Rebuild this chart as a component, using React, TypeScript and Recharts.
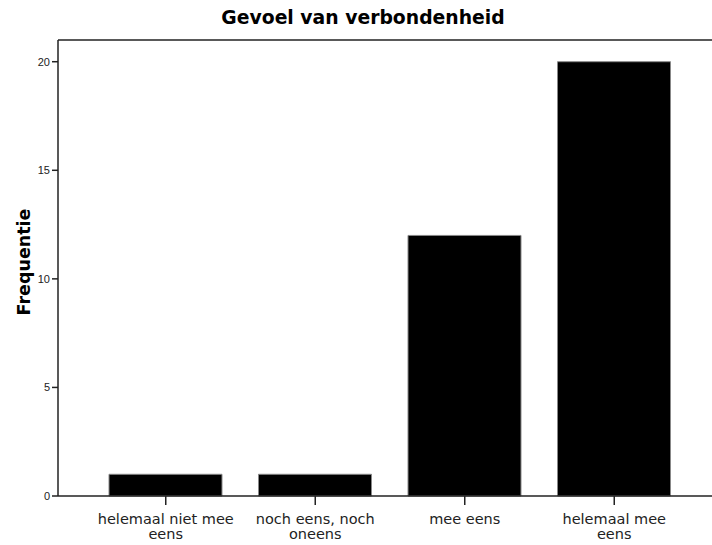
import { BarChart, Bar, XAxis, YAxis, ReferenceLine, Label } from 'recharts'

const categories = ['helemaal niet mee eens', 'noch eens, noch oneens', 'mee eens', 'helemaal mee eens']
const tickLines = [
  ['helemaal niet mee', 'eens'],
  ['noch eens, noch', 'oneens'],
  ['mee eens'],
  ['helemaal mee', 'eens'],
]
const frequencies = [1, 1, 12, 20]
const yTicks = [0, 5, 10, 15, 20]

const data = categories.map((c, i) => ({ name: c, value: frequencies[i] }))

const XTick = ({ x, y, index }: any) => {
  const lines = tickLines[index] ?? []
  return (
    <text x={x} y={y} textAnchor="middle" fontSize={14.5} fill="#222" fontFamily="'DejaVu Sans', Verdana, sans-serif">
      {lines.map((l, i) => (
        <tspan key={i} x={x} dy={i === 0 ? 17 : 15}>
          {l}
        </tspan>
      ))}
    </text>
  )
}

const YLabel = () => {
  const cx = 24
  const cy = 262
  return (
    <text
      x={cx}
      y={cy}
      transform={`rotate(-90 ${cx} ${cy})`}
      textAnchor="middle"
      dominantBaseline="central"
      fontSize={17.5}
      fontWeight="bold"
      fill="#000"
      fontFamily="'DejaVu Sans', Verdana, sans-serif"
    >
      Frequentie
    </text>
  )
}

export default function App() {
  return (
    <div style={{ position: 'fixed', left: 0, top: 0, width: 712, height: 545, background: '#fff' }}>
      <div
        style={{
          position: 'absolute',
          left: 363,
          top: 4,
          transform: 'translateX(-50%)',
          whiteSpace: 'nowrap',
          fontFamily: "'DejaVu Sans', Verdana, sans-serif",
          fontWeight: 'bold',
          fontSize: 18.8,
          lineHeight: '28px',
          color: '#000',
        }}
      >
        Gevoel van verbondenheid
      </div>
      <BarChart width={712} height={545} data={data} margin={{ top: 40, right: 0, bottom: 0, left: 0 }}>
        <XAxis
          dataKey="name"
          interval={0}
          padding={{ left: 33, right: 23 }}
          tickSize={9}
          tickLine={{ stroke: '#222', strokeWidth: 1.5 }}
          axisLine={{ stroke: '#222', strokeWidth: 1.5 }}
          tick={<XTick />}
          height={49}
        />
        <YAxis
          width={58}
          domain={[0, 21]}
          ticks={yTicks}
          tickSize={6}
          tickLine={{ stroke: '#222', strokeWidth: 1.5 }}
          axisLine={{ stroke: '#222', strokeWidth: 1.5 }}
          tick={{ fontSize: 11, fill: '#222', fontFamily: "'Liberation Sans', Arial, sans-serif" }}
        >
          <Label content={<YLabel />} />
        </YAxis>
        <ReferenceLine y={21} stroke="#222" strokeWidth={1.5} />
        <Bar dataKey="value" fill="#000" stroke="#888" strokeWidth={1} barSize={113} isAnimationActive={false} />
      </BarChart>
    </div>
  )
}
